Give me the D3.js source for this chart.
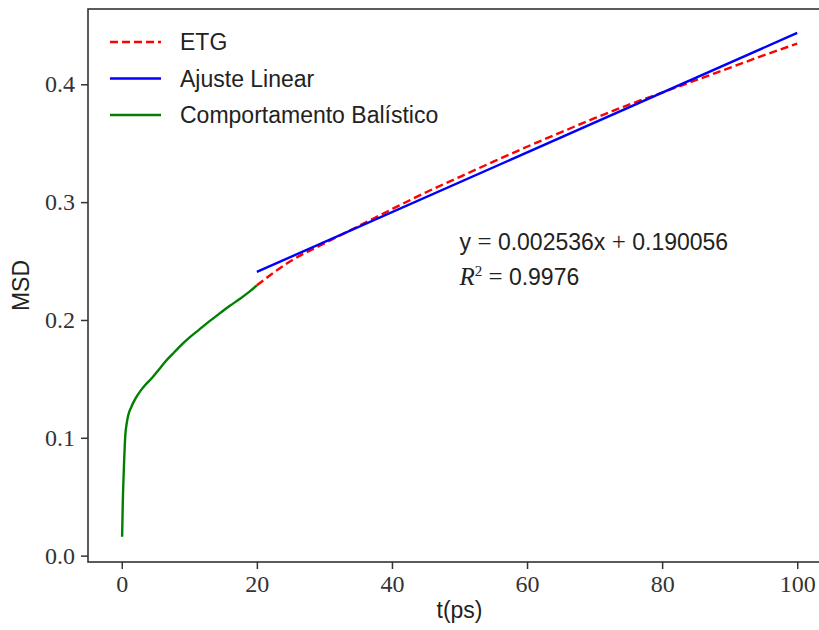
<!DOCTYPE html>
<html>
<head>
<meta charset="utf-8">
<script src="https://cdn.jsdelivr.net/npm/d3@7"></script>
<style>
  body { margin: 0; background: #fff; }
  svg { display: block; }
  .tick text { font-family: 'Liberation Serif', serif; font-size: 24px; fill: #333; }
  .lbl { font-family: 'Liberation Sans', sans-serif; font-size: 23px; fill: #222; }
</style>
</head>
<body>
<svg id="chart"></svg>
<script>
// data
const ballisticT = [0.05, 0.15, 0.3, 0.5, 0.75, 1.0, 1.4, 2.0, 2.8, 3.5, 4.5, 5.5, 6.5, 7.5, 8.5, 10, 11.5, 13, 14.6, 16, 17.5, 19, 20];
const ballisticMsd = [0.016, 0.045, 0.072, 0.100, 0.113, 0.120, 0.126, 0.133, 0.140, 0.145, 0.151, 0.158, 0.165, 0.171, 0.177, 0.185, 0.192, 0.199, 0.206, 0.212, 0.218, 0.2245, 0.2294];

const etgT = [20, 25, 30, 35, 40, 45, 50, 55, 60, 65, 70, 75, 80, 85, 90, 95, 100];
const etgMsd = [0.2294, 0.2500, 0.2650, 0.2795, 0.2940, 0.3082, 0.3213, 0.3343, 0.3470, 0.3592, 0.3712, 0.3825, 0.3930, 0.4035, 0.4140, 0.4245, 0.4345];

const fitT = [20, 100];
const fitMsd = [0.2408, 0.4436];

const xTicks = [0, 20, 40, 60, 80, 100];
const yTicks = [0.0, 0.1, 0.2, 0.3, 0.4];
const legendNames = ['ETG', 'Ajuste Linear', 'Comportamento Balístico'];
const legendColors = ['#ff0000', '#0000ff', '#008000'];
const legendDash = ['8,4', null, null];

const width = 819;
const height = 630;
const margin = { left: 88, top: 9, right: 831, bottom: 562 };

const svg = d3.select('#chart')
  .attr('width', width)
  .attr('height', height);

const x = d3.scaleLinear().domain([-5, 105]).range([margin.left, margin.right]);
const y = d3.scaleLinear().domain([-0.0054, 0.4639]).range([margin.bottom, margin.top]);

// axes
const xAxis = d3.axisBottom(x).tickValues(xTicks).tickSize(7).tickPadding(6).tickFormat(d3.format('d'));
const yAxis = d3.axisLeft(y).tickValues(yTicks).tickSize(7).tickPadding(6).tickFormat(d3.format('.1f'));

svg.append('g')
  .attr('transform', `translate(0, ${margin.bottom})`)
  .call(xAxis)
  .call(g => g.select('.domain').remove());

svg.append('g')
  .attr('transform', `translate(${margin.left}, 0)`)
  .call(yAxis)
  .call(g => g.select('.domain').remove());

svg.selectAll('.tick line').attr('stroke', '#333').attr('stroke-width', 1.5);

// frame
svg.append('rect')
  .attr('x', margin.left)
  .attr('y', margin.top)
  .attr('width', margin.right - margin.left)
  .attr('height', margin.bottom - margin.top)
  .attr('fill', 'none')
  .attr('stroke', '#333')
  .attr('stroke-width', 1.6);

// lines
const line = d3.line().x(d => x(d[0])).y(d => y(d[1]));
const smooth = d3.line().x(d => x(d[0])).y(d => y(d[1])).curve(d3.curveMonotoneX);

svg.append('path')
  .datum(etgT.map((t, i) => [t, etgMsd[i]]))
  .attr('d', smooth)
  .attr('fill', 'none')
  .attr('stroke', legendColors[0])
  .attr('stroke-width', 2.4)
  .attr('stroke-dasharray', legendDash[0]);

svg.append('path')
  .datum(fitT.map((t, i) => [t, fitMsd[i]]))
  .attr('d', line)
  .attr('fill', 'none')
  .attr('stroke', legendColors[1])
  .attr('stroke-width', 2.4);

svg.append('path')
  .datum(ballisticT.map((t, i) => [t, ballisticMsd[i]]))
  .attr('d', smooth)
  .attr('fill', 'none')
  .attr('stroke', legendColors[2])
  .attr('stroke-width', 2.4);

// axis labels
svg.append('text')
  .attr('class', 'lbl')
  .attr('x', (margin.left + margin.right) / 2)
  .attr('y', 618)
  .attr('text-anchor', 'middle')
  .text('t(ps)');

svg.append('text')
  .attr('class', 'lbl')
  .attr('transform', `translate(29, ${(margin.top + margin.bottom) / 2}) rotate(-90)`)
  .attr('text-anchor', 'middle')
  .text('MSD');

// legend
const legend = svg.append('g');
legendNames.forEach((name, i) => {
  const ly = 42 + i * 36.5;
  legend.append('line')
    .attr('x1', 110).attr('x2', 161)
    .attr('y1', ly).attr('y2', ly)
    .attr('stroke', legendColors[i])
    .attr('stroke-width', 2.4)
    .attr('stroke-dasharray', legendDash[i]);
  legend.append('text')
    .attr('class', 'lbl')
    .attr('x', 180)
    .attr('y', ly + 8)
    .text(name);
});

// fit annotation
const eq = svg.append('text')
  .attr('class', 'lbl')
  .attr('x', x(50))
  .attr('y', 250);
eq.append('tspan').text('y ');
eq.append('tspan').style('font-family', 'Liberation Serif, serif').style('font-size', '25px').text('=');
eq.append('tspan').text(' 0.002536x ');
eq.append('tspan').style('font-family', 'Liberation Serif, serif').style('font-size', '25px').text('+');
eq.append('tspan').text(' 0.190056');

const r2 = svg.append('text')
  .attr('class', 'lbl')
  .attr('x', x(50))
  .attr('y', 285);
r2.append('tspan').style('font-family', 'Liberation Serif, serif').style('font-style', 'italic').style('font-size', '25px').text('R');
r2.append('tspan').attr('dy', -9).style('font-family', 'Liberation Serif, serif').style('font-size', '15px').text('2');
r2.append('tspan').attr('dy', 9).style('font-family', 'Liberation Serif, serif').style('font-size', '25px').text(' = ');
r2.append('tspan').text('0.9976');
</script>
</body>
</html>
